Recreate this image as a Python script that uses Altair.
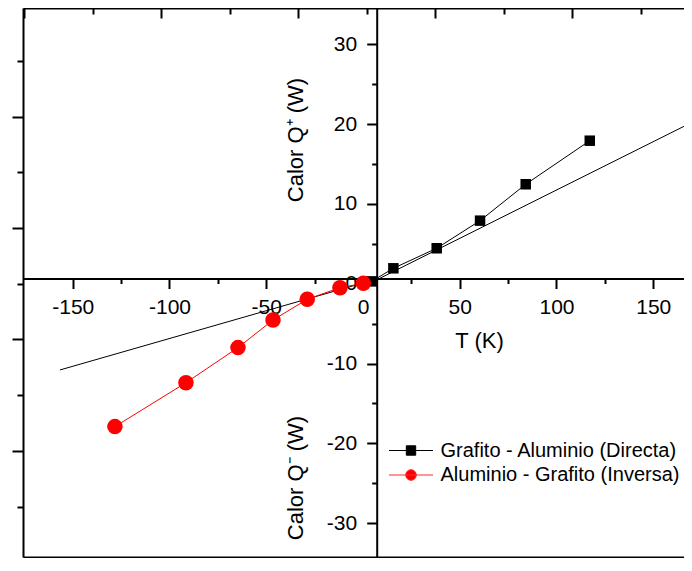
import altair as alt
import pandas as pd

FONT = "Liberation Sans"

# ---- data ----
directa_T = [4.5, 15.7, 38.1, 60.5, 84.1, 117.2]
directa_Q = [0.3, 1.94, 4.45, 7.91, 12.47, 17.93]
inversa_T = [0.2, -11.9, -28.8, -46.5, -64.6, -91.5, -128.2]
inversa_Q = [0.06, -0.49, -1.94, -4.54, -8.0, -12.4, -17.9]
fit_dir_T = [-1.0, 170.0]
fit_dir_Q = [-0.49, 20.23]
fit_inv_T = [-156.6, 7.2]
fit_inv_Q = [-10.8, 0.6]
series_names = ["Grafito - Aluminio (Directa)", "Aluminio - Grafito (Inversa)"]
series_fill = ["#000000", "#ff0000"]
series_stroke = ["#000000", "#ff2a2a"]
legend_shapes = [
    "M-2.2,0L2.2,0M-0.47,-0.47L0.47,-0.47L0.47,0.47L-0.47,0.47Z",
    "M-2.2,0L2.2,0M-0.53,0A0.53,0.53,0,1,0,0.53,0A0.53,0.53,0,1,0,-0.53,0Z",
]

# tick values
x_major = [-150, -100, -50, 0, 50, 100, 150]
x_minor = [-125, -75, -25, 25, 75, 125]
y_major = [-30, -20, -10, 0, 10, 20, 30]
y_minor = [-25, -15, -5, 5, 15, 25]
frame_x_major = [-175, -104.2, -33.4, 37.4, 108.2]
frame_x_minor = [-139.6, -68.8, 2.0, 72.8, 143.6]
frame_y_major = [20.94, 6.98, -6.98, -20.94]
frame_y_minor = [27.92, 13.96, 0, -13.96, -27.92]

x_domain = [-175.7, 165.9]
y_domain = [-34.24, 34.56]

PLOT_W = 661
PLOT_H = 549

dir_df = pd.DataFrame({"T": directa_T, "Q": directa_Q})
inv_df = pd.DataFrame({"T": inversa_T, "Q": inversa_Q})
fit_dir_df = pd.DataFrame({"T": fit_dir_T, "Q": fit_dir_Q})
fit_inv_df = pd.DataFrame({"T": fit_inv_T, "Q": fit_inv_Q})
leg_df = pd.DataFrame({"series": series_names, "T": [0, 0], "Q": [0, 0]})

xs = alt.Scale(domain=x_domain, nice=False, zero=False)
ys = alt.Scale(domain=y_domain, nice=False, zero=False)

HYPHEN = "replace(datum.label, '\u2212', '-')"


def ax(**kw):
    base = dict(grid=False, domainColor="black", tickColor="black", domainWidth=2,
                tickWidth=2, labelColor="black", titleColor="black", labelFont=FONT,
                titleFont=FONT, labelFontSize=21, titleFontSize=22,
                labelFontWeight="normal", titleFontWeight="normal",
                labelOverlap=False, labelFlush=False, labelBound=False)
    base.update(kw)
    return alt.Axis(**base)


IX = -(PLOT_H - 270.5)   # inner x axis sits at 270.5 px below plot top
IY = -353.7              # inner y axis sits 353.7 px right of plot left

ax_x_main = ax(orient="bottom", offset=IX, values=x_major, tickSize=10, labelPadding=8,
               labelExpr=HYPHEN,
               title="T (K)", titleX=456, titleY=69, titleAlign="center",
               titleBaseline="alphabetic")
ax_x_minor = ax(orient="bottom", offset=IX, values=x_minor, tickSize=5, labels=False,
                domain=False, title=None)
ax_x_top = ax(orient="bottom", offset=-PLOT_H, values=frame_x_major, tickSize=10,
              labels=False, title=None)
ax_x_top_minor = ax(orient="bottom", offset=-PLOT_H, values=frame_x_minor, tickSize=6,
                    labels=False, domain=False, title=None)
ax_x_bot = ax(orient="bottom", offset=0, values=frame_x_major, tickSize=8,
              labels=False, title=None)
ax_x_bot_minor = ax(orient="bottom", offset=0, values=frame_x_minor, tickSize=8,
                    labels=False, domain=False, title=None)

ax_y_main = ax(orient="left", offset=IY, values=y_major, tickSize=10, labelPadding=10,
               labelExpr=HYPHEN,
               title="Calor Q\u207a (W)", titleX=-74.7, titleY=131.5, titleAngle=270,
               titleAlign="center", titleBaseline="alphabetic")
ax_y_minor = ax(orient="left", offset=IY, values=y_minor, tickSize=5, labels=False,
                domain=False, title="Calor Q\u207b (W)", titleX=-74.7, titleY=469.5,
                titleAngle=270, titleAlign="center", titleBaseline="alphabetic")
ax_y_left = ax(orient="left", offset=0, values=frame_y_major, tickSize=11, labels=False,
               title=None)
ax_y_left_minor = ax(orient="left", offset=0, values=frame_y_minor, tickSize=6,
                     labels=False, domain=False, title=None)


def enc(xaxis, yaxis):
    return dict(x=alt.X("T:Q", scale=xs, axis=xaxis),
                y=alt.Y("Q:Q", scale=ys, axis=yaxis))


fit_dir = alt.Chart(fit_dir_df).mark_line(color="black", strokeWidth=1).encode(
    **enc(ax_x_bot, None))
fit_inv = alt.Chart(fit_inv_df).mark_line(color="black", strokeWidth=1).encode(
    **enc(ax_x_bot_minor, None))
dir_line = alt.Chart(dir_df).mark_line(color="black", strokeWidth=1).encode(
    **enc(ax_x_main, ax_y_main))
inv_line = alt.Chart(inv_df).mark_line(color="#ff0000", strokeWidth=1).encode(
    **enc(ax_x_top, ax_y_left))
dir_pts = alt.Chart(dir_df).mark_point(shape="square", filled=True, size=110,
                                       color="black", opacity=1).encode(
    **enc(ax_x_minor, ax_y_minor))
inv_pts = alt.Chart(inv_df).mark_point(shape="circle", filled=True, size=240,
                                       color="#ff0000", opacity=1).encode(
    **enc(ax_x_top_minor, ax_y_left_minor))

leg = alt.Legend(orient="none", legendX=377.5, legendY=432, title=None, labelFont=FONT,
                 labelFontSize=20, labelColor="black", labelLimit=500, symbolSize=400,
                 symbolStrokeWidth=1, symbolOffset=0, labelOffset=19, padding=0,
                 rowPadding=3.5, symbolOpacity=1)

legend_layer = alt.Chart(leg_df).mark_point(filled=True, opacity=1, size=400,
                                            strokeWidth=1).encode(
    x=alt.X("T:Q", scale=xs, axis=None),
    y=alt.Y("Q:Q", scale=ys, axis=None),
    fill=alt.Fill("series:N", scale=alt.Scale(domain=series_names, range=series_fill),
                  legend=leg),
    stroke=alt.Stroke("series:N",
                      scale=alt.Scale(domain=series_names, range=series_stroke),
                      legend=leg),
    shape=alt.Shape("series:N", scale=alt.Scale(domain=series_names, range=legend_shapes),
                    legend=leg),
).transform_filter("false")

chart = alt.layer(fit_dir, fit_inv, dir_line, inv_line, dir_pts, inv_pts, legend_layer
                  ).resolve_axis(x="independent", y="independent").properties(
    width=PLOT_W, height=PLOT_H,
    padding={"left": 15, "top": 0, "right": 0, "bottom": 1},
    autosize=alt.AutoSizeParams(type="none"),
    background="white",
).configure_view(strokeWidth=0)

chart.save("out.html", embed_options={"renderer": "svg", "actions": False})
